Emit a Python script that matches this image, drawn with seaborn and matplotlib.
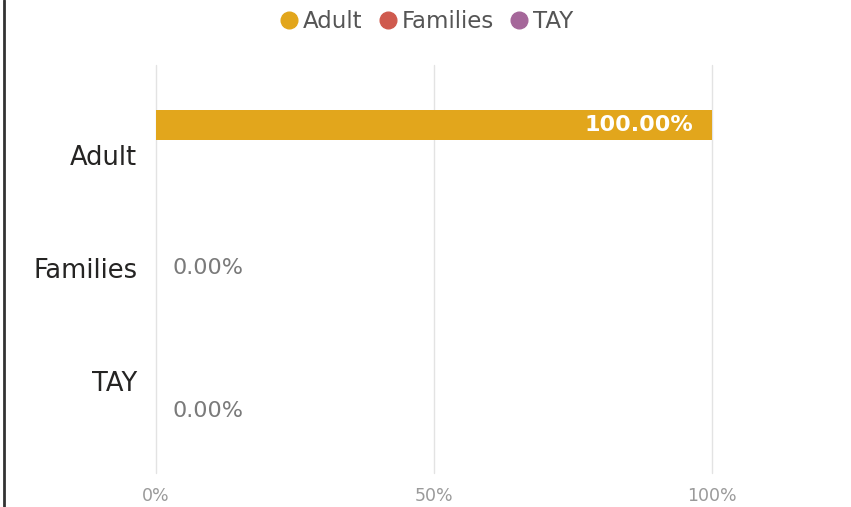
import matplotlib
matplotlib.use("Agg")
import matplotlib.pyplot as plt
import seaborn as sns
import pandas as pd
from matplotlib.lines import Line2D

categories = ["Adult", "Families", "TAY"]
series = ["Adult", "Families", "TAY"]
values = [100.0, 0.0, 0.0]
xticks = [0, 50, 100]
xtick_labels = ["0%", "50%", "100%"]
colors = ["#E2A61C", "#CF5A4E", "#A5679A"]

df = pd.DataFrame({"category": categories, "series": series, "value": values})

sns.set_theme(style="white")
plt.rcParams["font.family"] = ["DejaVu Sans"]

fig = plt.figure(figsize=(8.51, 5.07), dpi=100)
ax = fig.add_axes([156 / 851, 1 - 473 / 507, (712 - 156) / 851, (473 - 65) / 507])

sns.barplot(data=df, y="category", x="value", hue="series", order=categories,
            hue_order=series, palette=colors, orient="h", dodge=True, width=0.8,
            ax=ax, legend=False, saturation=1, linewidth=0)

ax.set_xlim(0, 100)
ax.set_ylim(2.814, -0.796)
ax.set_xticks(xticks)
ax.set_xticklabels(xtick_labels, fontsize=12.5, color="#9A9A9A")
ax.tick_params(axis="x", length=0, pad=10)
ax.tick_params(axis="y", length=0, pad=13.5, labelsize=18.5, labelcolor="#252423")
ax.set_xlabel("")
ax.set_ylabel("")
ax.grid(axis="x", color="#E3E3E3", linewidth=1)
for gl in ax.get_xgridlines():
    gl.set_clip_on(False)
ax.set_axisbelow(True)
for s in ax.spines.values():
    s.set_visible(False)

for cont in ax.containers:
    for bar in cont:
        bar.set_edgecolor("none")
        w = bar.get_width()
        yc = bar.get_y() + bar.get_height() / 2
        if w > 50:
            ax.annotate(f"{w:.2f}%", xy=(w, yc), xytext=(-13.5, 0), textcoords="offset points",
                        ha="right", va="center", color="white", fontsize=16, fontweight="semibold")
        else:
            ax.annotate(f"{w:.2f}%", xy=(w, yc), xytext=(12, 0), textcoords="offset points",
                        ha="left", va="center", color="#7A7A7A", fontsize=16)

handles = [Line2D([0], [0], marker="o", linestyle="", markersize=12,
                  markerfacecolor=c, markeredgecolor=c) for c in colors]
fig.legend(handles, series, loc="center", bbox_to_anchor=(0.496, 1 - 22 / 507), ncol=3,
           frameon=False, fontsize=16.5, handletextpad=-0.2, columnspacing=0.3,
           handlelength=1.6, labelcolor="#555555", borderaxespad=0)

fig.add_artist(Line2D([3.5 / 851, 3.5 / 851], [0, 1], transform=fig.transFigure,
                      color="#333333", linewidth=2))

fig.savefig("out.png", dpi=100, facecolor="white")
